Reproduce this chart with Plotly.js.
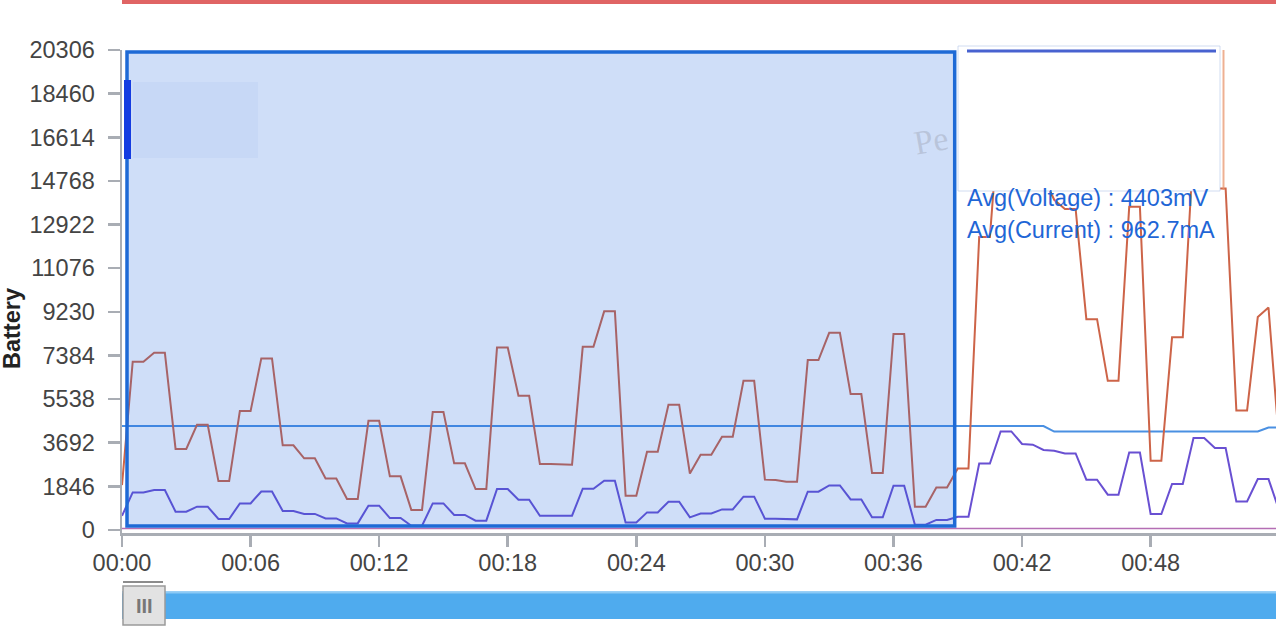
<!DOCTYPE html>
<html>
<head>
<meta charset="utf-8">
<script src="https://cdn.plot.ly/plotly-3.0.1.min.js"></script>
<style>
html,body{margin:0;padding:0;background:#ffffff;}
#chart{width:1276px;height:640px;}
</style>
</head>
<body>
<div id="chart"></div>
<script>
// ---- data (seconds since start, 0.5 s samples) ----
const times = [0,0.5,1,1.5,2,2.5,3,3.5,4,4.5,5,5.5,6,6.5,7,7.5,8,8.5,9,9.5,
10,10.5,11,11.5,12,12.5,13,13.5,14,14.5,15,15.5,16,16.5,17,17.5,18,18.5,19,19.5,
20,20.5,21,21.5,22,22.5,23,23.5,24,24.5,25,25.5,26,26.5,27,27.5,28,28.5,29,29.5,
30,30.5,31,31.5,32,32.5,33,33.5,34,34.5,35,35.5,36,36.5,37,37.5,38,38.5,39,39.5,
40,40.5,41,41.5,42,42.5,43,43.5,44,44.5,45,45.5,46,46.5,47,47.5,48,48.5,49,49.5,
50,50.5,51,51.5,52,52.5,53,53.5,54];

const powerMW = [1900,7120,7120,7500,7500,3430,3430,4450,4450,2070,
2070,5030,5030,7260,7260,3580,3580,3030,3030,2180,
2180,1310,1310,4620,4620,2270,2270,850,850,4990,
4990,2820,2820,1730,1730,7720,7720,5680,5680,2790,
2790,2760,2760,7750,7750,9250,9250,1450,1450,3310,
3310,5300,5300,2390,3180,3180,3950,3950,6310,6310,
2130,2110,2040,2040,7190,7190,8340,8340,5750,5750,
2410,2410,8290,8290,985,985,1800,1800,2600,2600,
12400,12400,18350,18350,16020,15880,14890,13970,13580,13580,
8920,8920,6310,6310,13670,13670,2930,2930,8150,8150,
16200,16200,14450,14450,5050,5050,9010,9410,3650];

const currentMA = [600,1590,1590,1690,1690,775,775,985,985,465,
465,1125,1125,1630,1630,805,805,680,680,490,
490,280,280,1030,1030,505,505,180,180,1125,
1125,635,635,395,395,1735,1735,1280,1280,605,
605,605,605,1745,1745,2085,2085,320,320,745,
745,1195,1195,535,700,700,870,870,1410,1410,
480,480,450,450,1620,1620,1885,1885,1295,1295,
535,535,1875,1875,225,225,425,425,560,560,
2815,2815,4170,4170,3640,3610,3385,3355,3240,3240,
2130,2130,1495,1495,3280,3280,675,675,1945,1945,
3890,3890,3470,3470,1210,1210,2155,2155,815];

const voltageMV = [4400,4400,4400,4400,4400,4400,4400,4400,4400,4400,
4400,4400,4400,4400,4400,4400,4400,4400,4400,4400,
4400,4400,4400,4400,4400,4400,4400,4400,4400,4400,
4400,4400,4400,4400,4400,4400,4400,4400,4400,4400,
4400,4400,4400,4400,4400,4400,4400,4400,4400,4400,
4400,4400,4400,4400,4400,4400,4400,4400,4400,4400,
4400,4400,4400,4400,4400,4400,4400,4400,4400,4400,
4400,4400,4400,4400,4400,4400,4400,4400,4400,4400,
4400,4400,4400,4400,4400,4400,4400,4165,4165,4165,
4165,4165,4165,4165,4165,4165,4165,4165,4165,4165,
4165,4165,4165,4165,4165,4165,4165,4335,4335];

const otherSeries = [60,60,60,60,60,60,60,60,60,60,
60,60,60,60,60,60,60,60,60,60,
60,60,60,60,60,60,60,60,60,60,
60,60,60,60,60,60,60,60,60,60,
60,60,60,60,60,60,60,60,60,60,
60,60,60,60,60,60,60,60,60,60,
60,60,60,60,60,60,60,60,60,60,
60,60,60,60,60,60,60,60,60,60,
60,60,60,60,60,60,60,60,60,60,
60,60,60,60,60,60,60,60,60,60,
60,60,60,60,60,60,60,60,60];

const xTickVals = [0,6,12,18,24,30,36,42,48];
const xTickText = ['00:00','00:06','00:12','00:18','00:24','00:30','00:36','00:42','00:48'];
const yTickVals = [0,1846,3692,5538,7384,9230,11076,12922,14768,16614,18460,20306];
const yTickText = ['0','1846','3692','5538','7384','9230','11076','12922','14768','16614','18460','20306'];
const avgTexts = ['Avg(Voltage) : 4403mV','Avg(Current) : 962.7mA'];
const yTitle = 'Battery';

// ---- layout helpers (pixel -> paper) ----
const L = 122, T = 50, W = 1154, H = 483;
const px = x => (x - L) / W;
const py = y => (T + H - y) / H;

const traces = [
  {x: times, y: voltageMV, name: 'Voltage(mV)', type: 'scatter', mode: 'lines',
   line: {color: '#4a90e2', width: 2}},
  {x: times, y: otherSeries, name: 'Other', type: 'scatter', mode: 'lines',
   line: {color: '#b46eb4', width: 1.5}},
  {x: times, y: currentMA, name: 'Current(mA)', type: 'scatter', mode: 'lines',
   line: {color: '#6950d2', width: 2}},
  {x: times, y: powerMW, name: 'Power(mW)', type: 'scatter', mode: 'lines',
   line: {color: '#cd6448', width: 2}}
];

const axisGray = '#a9adb4';
const font = {family: '"Liberation Sans", Arial, sans-serif', size: 23.5, color: '#444'};

const layout = {
  width: 1276, height: 640,
  margin: {l: L, r: 1276 - L - W, t: T, b: 640 - T - H, pad: 0},
  paper_bgcolor: '#ffffff', plot_bgcolor: '#ffffff',
  showlegend: false,
  font: font,
  xaxis: {
    range: [0, 53.85], showgrid: false, zeroline: false,
    showline: true, linecolor: axisGray, linewidth: 2.5,
    ticks: 'outside', ticklen: 11, tickwidth: 2.5, tickcolor: axisGray,
    tickmode: 'array', tickvals: xTickVals, ticktext: xTickText,
    tickfont: font, ticklabelstandoff: -4
  },
  yaxis: {
    range: [-127, 20306], showgrid: false, zeroline: false,
    showline: true, linecolor: axisGray, linewidth: 2.5,
    ticks: 'outside', ticklen: 12, tickwidth: 2.5, tickcolor: axisGray,
    tickmode: 'array', tickvals: yTickVals, ticktext: yTickText,
    tickfont: font, ticklabelstandoff: 8
  },
  shapes: [
    // top red bar
    {type: 'rect', xref: 'paper', yref: 'paper', x0: 0, x1: 1, y0: py(4), y1: py(0),
     fillcolor: '#e06464', line: {width: 0}},
    // faint box inside selection
    {type: 'rect', xref: 'paper', yref: 'paper', x0: px(133), x1: px(258), y0: py(158), y1: py(82),
     fillcolor: 'rgba(120,150,220,0.07)', line: {width: 0}, layer: 'above'},
    // selection window
    {type: 'rect', xref: 'paper', yref: 'paper', x0: px(127), x1: px(954.7), y0: py(526), y1: py(52),
     fillcolor: 'rgba(30,100,220,0.21)', line: {color: '#1e6ad6', width: 3.5}, layer: 'above'},
    // dark blue marker at left edge
    {type: 'rect', xref: 'paper', yref: 'paper', x0: px(124), x1: px(131), y0: py(159), y1: py(80),
     fillcolor: '#143ce1', line: {width: 0}, layer: 'above'},
    // legend panel
    {type: 'rect', xref: 'paper', yref: 'paper', x0: px(958), x1: px(1220), y0: py(191), y1: py(46),
     fillcolor: '#ffffff', line: {color: 'rgba(190,205,235,0.7)', width: 1}, layer: 'above'},
    {type: 'line', xref: 'paper', yref: 'paper', x0: px(967), x1: px(1216), y0: py(51), y1: py(51),
     line: {color: 'rgba(40,70,200,0.85)', width: 3}, layer: 'above'},
    {type: 'line', xref: 'paper', yref: 'paper', x0: px(1223.5), x1: px(1223.5), y0: py(190), y1: py(50),
     line: {color: 'rgba(232,150,110,0.75)', width: 2}, layer: 'above'},
    // scrollbar track
    {type: 'rect', xref: 'paper', yref: 'paper', x0: px(122), x1: 1, y0: py(619), y1: py(591.5),
     fillcolor: '#4fabee', line: {width: 0}},
    {type: 'line', xref: 'paper', yref: 'paper', x0: px(122), x1: 1, y0: py(592.5), y1: py(592.5),
     line: {color: '#8ccaf5', width: 2}},
    // scrollbar handle
    {type: 'line', xref: 'paper', yref: 'paper', x0: px(123), x1: px(163), y0: py(582), y1: py(582),
     line: {color: '#666666', width: 1.5}},
    {type: 'rect', xref: 'paper', yref: 'paper', x0: px(123), x1: px(165), y0: py(625), y1: py(586),
     fillcolor: '#e2e2e2', line: {color: '#9a9a9a', width: 1.5}}
  ],
  annotations: [
    {text: 'Pe', xref: 'paper', yref: 'paper', x: px(931), y: py(140), xanchor: 'center', yanchor: 'middle',
     showarrow: false, textangle: -10,
     font: {family: '"Liberation Serif", serif', size: 34, color: 'rgba(120,120,130,0.25)'}},
    {text: avgTexts[0], xref: 'paper', yref: 'paper', x: px(965), y: py(198), xanchor: 'left', yanchor: 'middle',
     showarrow: false, font: {family: font.family, size: 23.5, color: '#1f66d6'}},
    {text: avgTexts[1], xref: 'paper', yref: 'paper', x: px(965), y: py(230), xanchor: 'left', yanchor: 'middle',
     showarrow: false, font: {family: font.family, size: 23.5, color: '#1f66d6'}},
    {text: '<b>' + yTitle + '</b>', xref: 'paper', yref: 'paper', x: px(12), y: py(329), xanchor: 'center', yanchor: 'middle',
     showarrow: false, textangle: -90, font: {family: font.family, size: 23.5, color: '#222'}},
    {text: '<b>III</b>', xref: 'paper', yref: 'paper', x: px(144), y: py(605.5), xanchor: 'center', yanchor: 'middle',
     showarrow: false, font: {family: font.family, size: 20, color: '#777777'}}
  ]
};

Plotly.newPlot('chart', traces, layout, {displayModeBar: false, staticPlot: true});
</script>
</body>
</html>
